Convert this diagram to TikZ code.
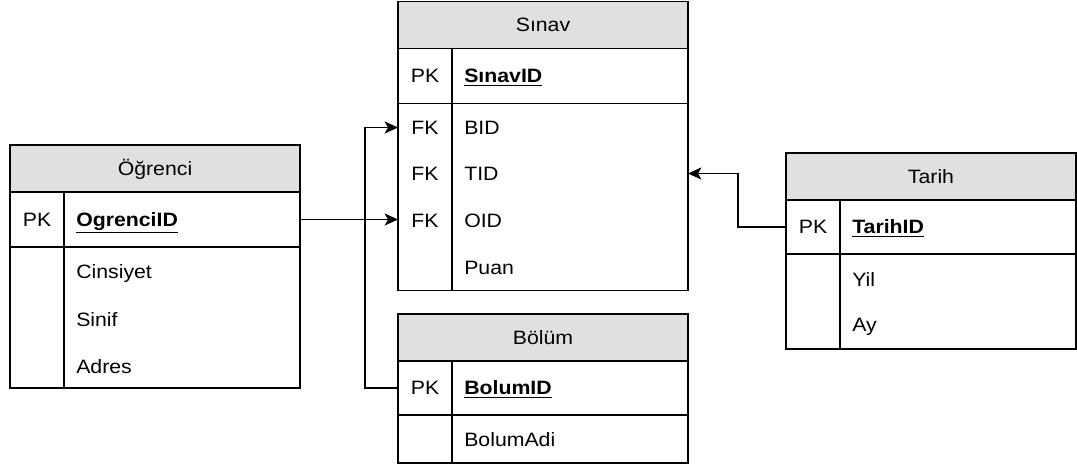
\documentclass[tikz,border=0pt]{standalone}
\usepackage{fontspec}
\setmainfont{Liberation Sans}[FakeStretch=1.1]
\usepackage{xcolor}
\usepackage{tikz}
\usetikzlibrary{arrows.meta, positioning}
\definecolor{headgray}{HTML}{E0E0E0}
\newcommand{\pxu}{0.75pt}

\begin{document}
\begin{tikzpicture}[x=0.75pt, y=-0.75pt,
    font=\fontsize{14.5}{17}\selectfont,
    cell/.style={draw, line width=1.3pt, inner sep=0pt, outer sep=0pt, anchor=north west},
    tblhead/.style={cell, fill=headgray, minimum width=290*\pxu, minimum height=47*\pxu, text height=10.4pt, text depth=0pt},
    keycol/.style={cell, minimum width=54*\pxu, minimum height=#1*\pxu, text height=10.4pt, text depth=0pt},
    valcol/.style={cell, minimum width=236*\pxu, minimum height=#1*\pxu},
    field/.style={inner sep=0pt, text height=10.4pt, text depth=0pt, anchor=west},
    keyfield/.style={field, font=\fontsize{14.5}{17}\selectfont\bfseries},
    arrow/.style={-{Stealth[length=10pt, width=9pt, inset=2.5pt]}, line width=1.3pt}
]
    \useasboundingbox (0,0) rectangle (1077,468);

    % Ogrenci table
    \node[tblhead] (ogr_head) at (10,145) {Öğrenci};
    \node[keycol=55] (ogr_pkkey) at (ogr_head.south west) {PK};
    \node[valcol=55] (ogr_pkval) at (ogr_pkkey.north east) {};
    \node[keycol=141] (ogr_bodykey) at (ogr_pkkey.south west) {};
    \node[valcol=141] (ogr_bodyval) at (ogr_bodykey.north east) {};
    \node[keyfield] (ogr_id) at ([xshift=12*\pxu]ogr_pkval.west) {\underline{OgrenciID}};
    \node[field] (ogr_f1) at ([shift={(12,25)}]ogr_bodyval.north west) {Cinsiyet};
    \node[field] (ogr_f2) at ([shift={(12,73)}]ogr_bodyval.north west) {Sinif};
    \node[field] (ogr_f3) at ([shift={(12,120)}]ogr_bodyval.north west) {Adres};

    % Sinav table
    \node[tblhead] (sin_head) at (398,1.5) {Sınav};
    \node[keycol=55] (sin_pkkey) at (sin_head.south west) {PK};
    \node[valcol=55] (sin_pkval) at (sin_pkkey.north east) {};
    \node[keycol=187] (sin_bodykey) at (sin_pkkey.south west) {};
    \node[valcol=187] (sin_bodyval) at (sin_bodykey.north east) {};
    \node[keyfield] (sin_id) at ([xshift=12*\pxu]sin_pkval.west) {\underline{SınavID}};
    \node[field, anchor=center] (sin_fk1) at ([yshift=-24*\pxu]sin_bodykey.north) {FK};
    \node[field, anchor=center] (sin_fk2) at ([yshift=-70*\pxu]sin_bodykey.north) {FK};
    \node[field, anchor=center] (sin_fk3) at ([yshift=-117*\pxu]sin_bodykey.north) {FK};
    \node[field] (sin_f1) at ([shift={(12,24)}]sin_bodyval.north west) {BID};
    \node[field] (sin_f2) at ([shift={(12,70)}]sin_bodyval.north west) {TID};
    \node[field] (sin_f3) at ([shift={(12,117)}]sin_bodyval.north west) {OID};
    \node[field] (sin_f4) at ([shift={(12,164)}]sin_bodyval.north west) {Puan};

    % Bolum table
    \node[tblhead] (bol_head) at (398,314) {Bölüm};
    \node[keycol=54] (bol_pkkey) at (bol_head.south west) {PK};
    \node[valcol=54] (bol_pkval) at (bol_pkkey.north east) {};
    \node[keycol=48] (bol_bodykey) at (bol_pkkey.south west) {};
    \node[valcol=48] (bol_bodyval) at (bol_bodykey.north east) {};
    \node[keyfield] (bol_id) at ([xshift=12*\pxu]bol_pkval.west) {\underline{BolumID}};
    \node[field] (bol_f1) at ([shift={(12,25)}]bol_bodyval.north west) {BolumAdi};

    % Tarih table
    \node[tblhead] (tar_head) at (786,153) {Tarih};
    \node[keycol=54] (tar_pkkey) at (tar_head.south west) {PK};
    \node[valcol=54] (tar_pkval) at (tar_pkkey.north east) {};
    \node[keycol=95] (tar_bodykey) at (tar_pkkey.south west) {};
    \node[valcol=95] (tar_bodyval) at (tar_bodykey.north east) {};
    \node[keyfield] (tar_id) at ([xshift=12*\pxu]tar_pkval.west) {\underline{TarihID}};
    \node[field] (tar_f1) at ([shift={(12,26)}]tar_bodyval.north west) {Yil};
    \node[field] (tar_f2) at ([shift={(12,71)}]tar_bodyval.north west) {Ay};

    % Arrows
    \draw[arrow] (ogr_pkval.east) -- (ogr_pkval.east -| sin_bodykey.west);
    \draw[arrow] (bol_pkkey.west) -- ++(-33,0) |- (sin_fk1 -| sin_bodykey.west);
    \draw[arrow] (tar_pkkey.west) -- ++(-48,0) |- (sin_fk2 -| sin_bodyval.east);
\end{tikzpicture}
\end{document}
